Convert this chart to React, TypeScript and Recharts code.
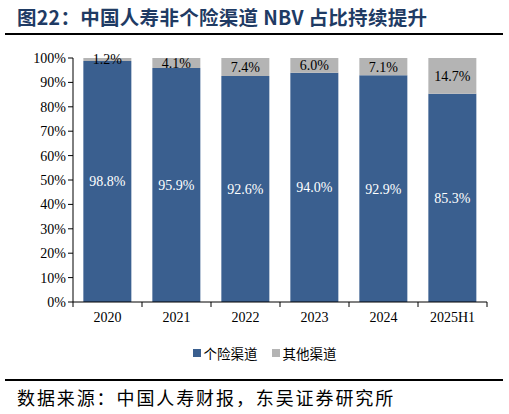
import { BarChart, Bar, XAxis, YAxis, LabelList } from "recharts";

const years = ["2020", "2021", "2022", "2023", "2024", "2025H1"];
const agentShare = [98.8, 95.9, 92.6, 94.0, 92.9, 85.3];
const otherShare = [1.2, 4.1, 7.4, 6.0, 7.1, 14.7];
const yTicks = [0, 10, 20, 30, 40, 50, 60, 70, 80, 90, 100];

const BLUE = "#3A5F8F";
const GRAY = "#B4B4B4";
const SERIF = "'Liberation Serif', 'Noto Sans CJK SC', serif";
const CJK = "'Noto Sans CJK SC', sans-serif";

const data = years.map((year, i) => ({
  year,
  agent: agentShare[i],
  other: otherShare[i],
}));

const BAND = 69;

function XTick(props: any) {
  const { x, y, payload, index } = props;
  const last = index === years.length - 1;
  return (
    <g>
      <line x1={x - BAND / 2} x2={x - BAND / 2} y1={y - 8} y2={y - 3} stroke="#000" />
      {last && <line x1={x + BAND / 2} x2={x + BAND / 2} y1={y - 8} y2={y - 3} stroke="#000" />}
      <text x={x} y={y + 12} textAnchor="middle" fontFamily={SERIF} fontSize={14} fill="#000">
        {payload.value}
      </text>
    </g>
  );
}

export default function App() {
  return (
    <div style={{ position: "relative", width: 509, height: 414, background: "#fff", overflow: "hidden" }}>
      <style>{"body{margin:0}"}</style>
      <div
        style={{
          position: "absolute",
          left: 17,
          top: 2,
          fontFamily: CJK,
          fontWeight: 700,
          fontSize: 19.5,
          letterSpacing: 0.3,
          color: "#1F3B64",
          whiteSpace: "nowrap",
        }}
      >
        图22：中国人寿非个险渠道 NBV 占比持续提升
      </div>
      <div style={{ position: "absolute", left: 5, top: 33, width: 498, height: 2, background: "#000" }} />

      <div style={{ position: "absolute", left: 0, top: 0 }}>
        <BarChart
          width={509}
          height={414}
          data={data}
          barCategoryGap="15%"
          margin={{ top: 58, right: 22, left: 13, bottom: 82 }}
        >
          <XAxis
            dataKey="year"
            axisLine={{ stroke: "#000" }}
            tickLine={false}
            tick={<XTick />}
            interval={0}
            height={30}
          />
          <YAxis
            width={60}
            domain={[0, 100]}
            ticks={yTicks}
            interval={0}
            tickFormatter={(v: number) => `${v}%`}
            axisLine={{ stroke: "#000" }}
            tickLine={{ stroke: "#000" }}
            tickSize={5}
            tick={{ fontFamily: SERIF, fontSize: 14, fill: "#000" }}
          />
          <Bar dataKey="agent" stackId="a" fill={BLUE} isAnimationActive={false}>
            <LabelList
              dataKey="agent"
              position="center"
              formatter={(v: any) => `${Number(v).toFixed(1)}%`}
              style={{ fontFamily: SERIF, fontSize: 14, fill: "#fff" }}
            />
          </Bar>
          <Bar dataKey="other" stackId="a" fill={GRAY} isAnimationActive={false}>
            <LabelList
              dataKey="other"
              position="center"
              formatter={(v: any) => `${Number(v).toFixed(1)}%`}
              style={{ fontFamily: SERIF, fontSize: 14, fill: "#000" }}
            />
          </Bar>
        </BarChart>
      </div>

      <div
        style={{
          position: "absolute",
          top: 343,
          left: 0,
          width: 509,
          display: "flex",
          justifyContent: "center",
          alignItems: "center",
          fontFamily: CJK,
          fontSize: 13.5,
          color: "#000",
          paddingLeft: 20,
          boxSizing: "border-box",
        }}
      >
        <span style={{ width: 8, height: 8, background: BLUE, display: "inline-block", marginRight: 3 }} />
        <span style={{ marginRight: 14 }}>个险渠道</span>
        <span style={{ width: 8, height: 8, background: GRAY, display: "inline-block", marginRight: 3 }} />
        <span>其他渠道</span>
      </div>

      <div style={{ position: "absolute", left: 5, top: 379, width: 498, height: 2, background: "#000" }} />
      <div
        style={{
          position: "absolute",
          left: 17,
          top: 384,
          fontFamily: CJK,
          fontSize: 18,
          letterSpacing: 1.9,
          color: "#000",
          whiteSpace: "nowrap",
        }}
      >
        数据来源：中国人寿财报，东吴证券研究所
      </div>
    </div>
  );
}
